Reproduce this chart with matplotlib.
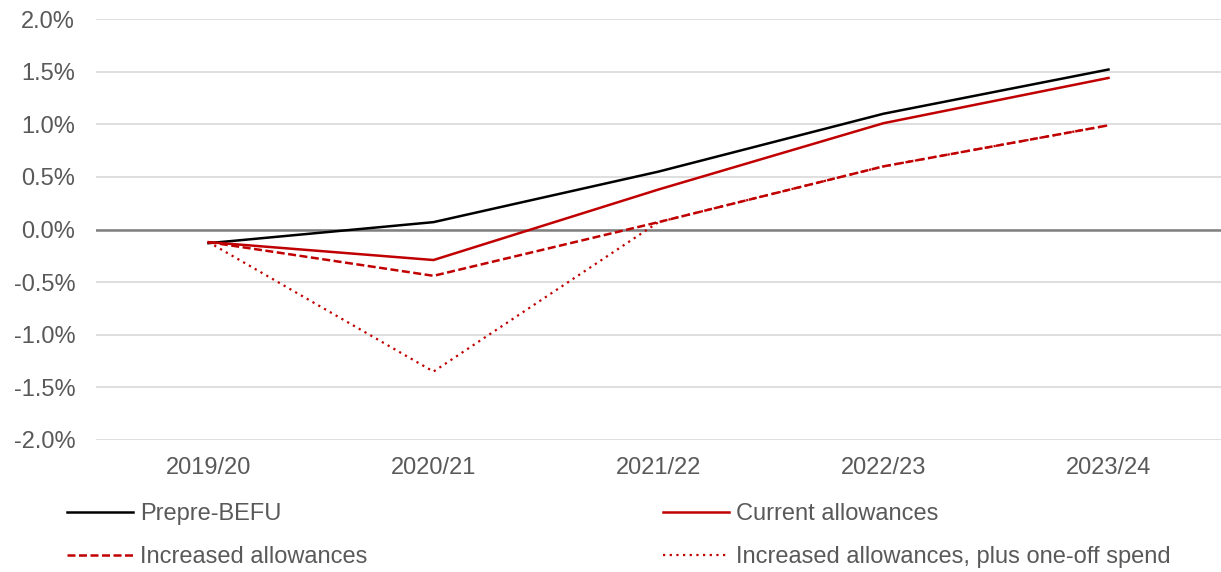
import matplotlib.pyplot as plt
from matplotlib.ticker import FuncFormatter

plt.rcParams['font.family'] = ['Liberation Sans', 'DejaVu Sans']

years = ['2019/20', '2020/21', '2021/22', '2022/23', '2023/24']
prepre_befu = [-0.13, 0.07, 0.55, 1.10, 1.52]
current = [-0.12, -0.29, 0.38, 1.01, 1.44]
increased = [-0.12, -0.44, 0.07, 0.60, 0.99]
increased_oneoff = [-0.12, -1.35, 0.07, 0.60, 0.99]

red = '#c00000'
txt = '#595959'

fig = plt.figure(figsize=(12.21, 5.72), dpi=100)
ax = fig.add_axes([96/1221, 1 - 440/572, 1 - 96/1221, 421/572])

x = range(len(years))
l1, = ax.plot(x, prepre_befu, color='black', lw=1.8, label='Prepre-BEFU')
l2, = ax.plot(x, current, color=red, lw=1.8, label='Current allowances')
l3, = ax.plot(x, increased, color=red, lw=1.8, ls=(0, (3.2, 1.4)), label='Increased allowances')
l4, = ax.plot(x, increased_oneoff, color=red, lw=1.6, ls=(0, (1, 2)),
              label='Increased allowances, plus one-off spend')

ax.set_xlim(-0.5, 4.5)
ax.set_ylim(-2.0, 2.0)
ax.set_yticks([-2.0, -1.5, -1.0, -0.5, 0.0, 0.5, 1.0, 1.5, 2.0])
ax.yaxis.set_major_formatter(FuncFormatter(lambda v, p: f'{v:.1f}%'))
ax.set_xticks(list(x))
ax.set_xticklabels(years)
ax.grid(axis='y', color='#d9d9d9', lw=1.2)
ax.set_axisbelow(True)
ax.axhline(0, color='#808080', lw=1.8, zorder=1.5)
for s in ax.spines.values():
    s.set_visible(False)
ax.tick_params(length=0, labelsize=17, labelcolor=txt)
ax.tick_params(axis='x', pad=12)
ax.tick_params(axis='y', pad=15)

# row-wise order: matplotlib fills legend columns first
fig.legend([l1, l3, l2, l4], [l.get_label() for l in (l1, l3, l2, l4)],
           loc='upper left', bbox_to_anchor=(55/1221, 1 - 491/572), ncol=2,
           frameon=False, fontsize=17, labelcolor=txt, handlelength=2.8,
           handletextpad=0.3, columnspacing=12.5, labelspacing=0.9, borderpad=0)

fig.savefig('out.png', dpi=100)
